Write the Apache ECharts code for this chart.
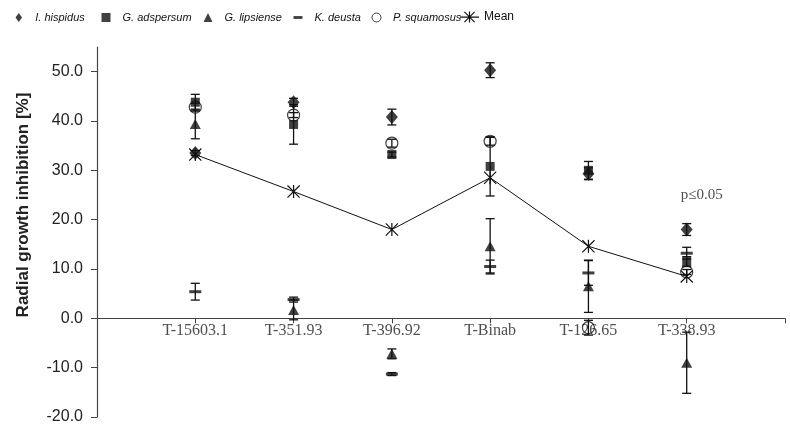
<!DOCTYPE html>
<html>
<head>
<meta charset="utf-8">
<script src="https://cdn.jsdelivr.net/npm/echarts@6/dist/echarts.min.js"></script>
<style>
    html, body { margin: 0; padding: 0; background: #fff; }
    #chart { width: 790px; height: 432px; }
</style>
</head>
<body>
<div id="chart"></div>
<script>
// Treatments on the x axis (empty slots at both ends keep the spacing)
const treatments = ['T-15603.1', 'T-351.93', 'T-396.92', 'T-Binab', 'T-126.65', 'T-338.93']
const xSlots = [''].concat(treatments, [''])

// Radial growth inhibition [%] and error per fungus
const hispidus = [33.5, 43.8, 40.8, 50.3, 29.3, 18.0]
const hispidusErr = [0.5, 0.8, 1.6, 1.5, 1.2, 1.2]
const adspersum = [43.8, 39.3, 33.2, 30.8, 30.0, 11.5]
const adspersumErr = [1.6, 4.0, 0.5, 6.0, 1.8, 1.0]
const lipsiense = [39.4, 1.7, -7.2, 14.6, 6.5, -9.0]
const lipsienseErr = [3.0, 2.0, 1.0, 5.6, 5.3, 6.2]
const deusta = [5.4, 3.8, -11.3, 10.5, 9.2, 13.2]
const deustaErr = [1.7, 0.5, 0.3, 1.3, 2.5, 1.2]
const squamosus = [42.8, 41.2, 35.5, 35.9, -1.9, 9.4]
const squamosusErr = [0.8, 0.5, 0.8, 0.8, 1.5, 0.5]
const meanValues = [33.2, 25.7, 18.0, 28.5, 14.6, 8.5]

const yTicks = [-20, -10, 0, 10, 20, 30, 40, 50]
const noteText = 'p≤0.05'
const noteAt = [6, 24.9]

const INK = '#111'
const SANS = 'Liberation Sans, Arial, sans-serif'
const SERIF = 'Liberation Serif, Times New Roman, serif'

// asterisk marker built from three thin bars
const STAR = 'path://M6.35,0H7.65V14H6.35Z M0,0.9L0.9,0L14,13.1L13.1,14Z M0.9,14L0,13.1L13.1,0L14,0.9Z'
const STAR_LINE = 'path://M0,5H19V6.2H0Z M8.9,0H10.1V11H8.9Z M4,0.8L4.8,0L15,10.2L14.2,11Z M4.8,11L4,10.2L14.2,0L15,0.8Z'
const DASH = 'path://M0,0H10V3.2H0Z'
const DIAMOND = 'path://M4,0L8,5.5L4,11L0,5.5Z'

const toPoints = vals => vals.map((v, i) => [i + 1, v])
const toErrors = (vals, errs) => vals.map((v, i) => [i + 1, v, errs[i]])

const renderError = (params, api) => {
    const x = api.value(0)
    const v = api.value(1)
    const e = api.value(2)
    const top = api.coord([x, v + e])
    const bot = api.coord([x, v - e])
    const hw = 4.5
    const style = { stroke: INK, lineWidth: 1.3 }
    return {
        type: 'group',
        children: [
            { type: 'line', shape: { x1: top[0], y1: top[1], x2: bot[0], y2: bot[1] }, style },
            { type: 'line', shape: { x1: top[0] - hw, y1: top[1], x2: top[0] + hw, y2: top[1] }, style },
            { type: 'line', shape: { x1: bot[0] - hw, y1: bot[1], x2: bot[0] + hw, y2: bot[1] }, style }
        ]
    }
}

const errorSeries = (vals, errs) => ({
    type: 'custom',
    renderItem: renderError,
    data: toErrors(vals, errs),
    silent: true,
    z: 2
})

const markerSeries = (name, vals, symbol, size, style) => ({
    name,
    type: 'scatter',
    data: toPoints(vals),
    symbol,
    symbolSize: size,
    itemStyle: style || { color: INK },
    z: 3
})

// one legend per entry so each sits where it does in the figure
const legendItem = (iconCenter, item) => ({
    left: iconCenter - 4.5,
    top: 12,
    padding: 0,
    itemWidth: 9,
    itemHeight: 9,
    textStyle: {
        fontFamily: SANS, fontSize: 11, fontStyle: 'italic', color: INK,
        padding: [0, 0, 0, 7]
    },
    data: [item]
})

const chart = echarts.init(document.getElementById('chart'))

chart.setOption({
    animation: false,
    backgroundColor: '#fff',
    grid: { left: 97, right: 5, top: 47, bottom: 15, outerBoundsMode: 'none' },
    legend: [
        legendItem(20, { name: 'I. hispidus', icon: DIAMOND }),
        legendItem(106, { name: 'G. adspersum', icon: 'rect' }),
        legendItem(208, { name: 'G. lipsiense', icon: 'triangle' }),
        legendItem(298, { name: 'K. deusta', icon: DASH }),
        legendItem(376, { name: 'P. squamosus', icon: 'circle', itemStyle: { color: '#fff', borderColor: INK, borderWidth: 1 } }),
        {
            left: 460,
            top: 11,
            padding: 0,
            itemWidth: 19,
            itemHeight: 11,
            textStyle: { fontFamily: SANS, fontSize: 12, color: INK },
            data: [{ name: 'Mean', icon: STAR_LINE }]
        }
    ],
    xAxis: {
        type: 'category',
        data: xSlots,
        boundaryGap: false,
        axisLine: { onZero: true, lineStyle: { color: '#444', width: 1.2 } },
        axisTick: { show: true, interval: 0, length: 5, lineStyle: { color: '#444' } },
        axisLabel: { show: false },
        splitLine: { show: false }
    },
    yAxis: {
        type: 'value',
        min: -20,
        max: 55,
        interval: 10,
        axisLine: { show: true, lineStyle: { color: '#444', width: 1.2 } },
        axisTick: { show: true, length: 6, customValues: yTicks, lineStyle: { color: '#444' } },
        axisLabel: {
            customValues: yTicks,
            margin: 14,
            color: '#222',
            fontFamily: SANS,
            fontSize: 16,
            formatter: v => v.toFixed(1)
        },
        splitLine: { show: false }
    },
    graphic: [
        {
            type: 'text',
            x: 23,
            y: 205,
            rotation: Math.PI / 2,
            style: {
                text: 'Radial growth inhibition [%]',
                font: 'bold 17px ' + SANS,
                fill: '#222',
                align: 'center',
                verticalAlign: 'middle'
            }
        }
    ],
    series: [
        errorSeries(hispidus, hispidusErr),
        errorSeries(adspersum, adspersumErr),
        errorSeries(lipsiense, lipsienseErr),
        errorSeries(deusta, deustaErr),
        errorSeries(squamosus, squamosusErr),
        markerSeries('I. hispidus', hispidus, 'diamond', [12, 14]),
        markerSeries('G. adspersum', adspersum, 'rect', 9),
        markerSeries('G. lipsiense', lipsiense, 'triangle', [11, 10]),
        markerSeries('K. deusta', deusta, DASH, [12, 3]),
        markerSeries('P. squamosus', squamosus, 'circle', 12,
            { color: 'rgba(0,0,0,0)', borderColor: INK, borderWidth: 1.2 }),
        {
            name: 'Mean',
            type: 'line',
            data: toPoints(meanValues),
            symbol: STAR,
            symbolSize: 13,
            showAllSymbol: true,
            itemStyle: { color: INK },
            lineStyle: { color: INK, width: 1 },
            z: 4
        },
        // treatment names sit under the zero line, as in the figure
        {
            type: 'scatter',
            data: treatments.map((t, i) => [i + 1, 0]),
            symbolSize: 0,
            silent: true,
            z: 1,
            label: {
                show: true,
                position: 'bottom',
                distance: 4,
                formatter: p => treatments[p.dataIndex],
                color: '#222',
                fontFamily: SERIF,
                fontSize: 16
            }
        },
        {
            type: 'scatter',
            data: [noteAt],
            symbolSize: 0,
            silent: true,
            label: {
                show: true,
                position: 'inside',
                offset: [15, 0],
                formatter: noteText,
                color: '#222',
                fontFamily: SERIF,
                fontSize: 15
            }
        }
    ]
})
</script>
</body>
</html>
